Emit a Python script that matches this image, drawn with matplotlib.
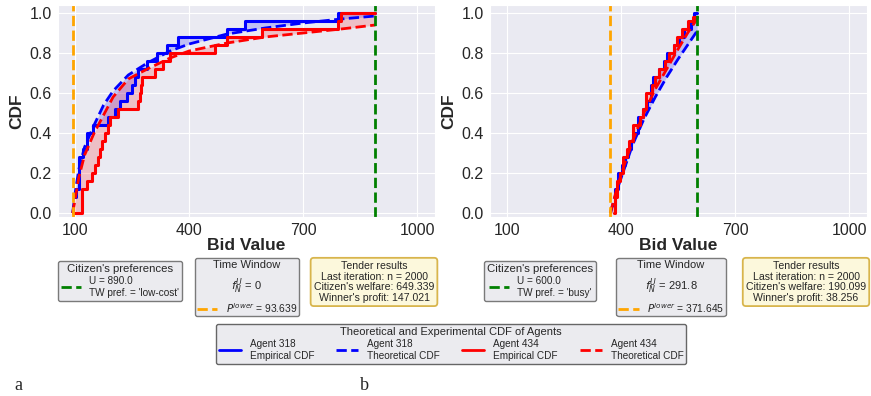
import numpy as np
import matplotlib
matplotlib.use("Agg")
import matplotlib.pyplot as plt
import seaborn as sns
from matplotlib.lines import Line2D

sns.set_style("darkgrid")
plt.rcParams['font.family'] = ['Liberation Sans', 'DejaVu Sans']
plt.rcParams['mathtext.fontset'] = 'dejavusans'

W, H = 871, 396

# ---------------- panel a ----------------
a_U = 890.0
a_p_lower = 93.639
a_fNU = "0"
a_pref = "low-cost"
a_results = ["Last iteration: n = 2000", "Citizen's welfare: 649.339", "Winner's profit: 147.021"]

a_318_bids = [97, 103, 111, 122, 132, 146, 187, 205, 218, 236, 249, 258, 266, 288, 315, 341, 371, 500, 548, 792]
a_318_cdf = [0.08, 0.12, 0.28, 0.32, 0.40, 0.44, 0.48, 0.52, 0.56, 0.60, 0.64, 0.68, 0.72, 0.76, 0.80, 0.84, 0.88, 0.92, 0.96, 1.00]
a_434_bids = [95, 117, 130, 144, 152, 161, 165, 170, 179, 187, 192, 214, 266, 270, 273, 275, 310, 332, 350, 468, 499, 591, 792, 800]
a_434_cdf = [0.00, 0.12, 0.16, 0.20, 0.24, 0.28, 0.32, 0.36, 0.40, 0.44, 0.48, 0.52, 0.56, 0.60, 0.64, 0.68, 0.72, 0.76, 0.80, 0.84, 0.88, 0.92, 0.96, 1.00]

a_318_theo_x = [93.639, 100, 110, 125, 150, 175, 200, 240, 290, 350, 400, 500, 600, 700, 800, 890]
a_318_theo_y = [0.0, 0.10, 0.22, 0.33, 0.44, 0.54, 0.61, 0.69, 0.75, 0.81, 0.845, 0.895, 0.925, 0.95, 0.97, 0.985]
a_434_theo_x = [93.639, 100, 110, 125, 150, 175, 200, 240, 290, 350, 400, 500, 600, 700, 800, 890]
a_434_theo_y = [0.0, 0.07, 0.18, 0.29, 0.40, 0.49, 0.58, 0.67, 0.72, 0.775, 0.81, 0.85, 0.88, 0.90, 0.92, 0.94]

# ---------------- panel b ----------------
b_U = 600.0
b_p_lower = 371.645
b_fNU = "291.8"
b_pref = "busy"
b_results = ["Last iteration: n = 2000", "Citizen's welfare: 190.099", "Winner's profit: 38.256"]

b_318_bids = [378, 385, 393, 402, 410, 418, 425, 432, 445, 458, 468, 478, 485, 500, 512, 522, 540, 553, 565, 585, 592]
b_318_cdf = [0.04, 0.12, 0.20, 0.24, 0.28, 0.32, 0.36, 0.40, 0.48, 0.52, 0.56, 0.64, 0.68, 0.72, 0.76, 0.80, 0.84, 0.88, 0.92, 0.96, 1.00]
b_434_bids = [380, 383, 390, 398, 405, 415, 420, 430, 450, 458, 465, 480, 490, 500, 515, 525, 540, 548, 560, 575, 590]
b_434_cdf = [0.00, 0.08, 0.16, 0.20, 0.28, 0.32, 0.36, 0.44, 0.48, 0.52, 0.60, 0.64, 0.68, 0.72, 0.76, 0.80, 0.84, 0.88, 0.92, 0.96, 0.98]

b_318_theo_x = [371.645, 390, 410, 430, 460, 490, 520, 550, 575, 600]
b_318_theo_y = [0.0, 0.12, 0.23, 0.34, 0.47, 0.58, 0.68, 0.77, 0.84, 0.91]
b_434_theo_x = [371.645, 390, 410, 430, 460, 490, 520, 550, 575, 600]
b_434_theo_y = [0.0, 0.13, 0.25, 0.36, 0.50, 0.62, 0.72, 0.82, 0.90, 0.97]

x_ticks = [100, 400, 700, 1000]
agents = ["318", "434"]
agent_colors = ["blue", "red"]


def step_eval(bids, cdf, xs):
    idx = np.searchsorted(bids, xs, side='right') - 1
    out = np.where(idx >= 0, np.asarray(cdf)[np.clip(idx, 0, None)], 0.0)
    return out


def draw_panel(ax, U, p_lower, series):
    grid = np.linspace(p_lower, U, 1500)
    for bids, cdf, tx, ty, col in series:
        emp = step_eval(bids, cdf, grid)
        theo = np.interp(grid, tx, ty)
        ax.fill_between(grid, emp, theo, color=col, alpha=0.18, lw=0)
    for bids, cdf, tx, ty, col in series:
        sx = list(bids) + [U]
        sy = list(cdf) + [cdf[-1]]
        ax.step(sx, sy, where='post', color=col, lw=2.2)
        ax.plot(tx, ty, color=col, ls='--', lw=2)
    ax.axvline(p_lower, color='orange', ls='--', lw=2)
    ax.axvline(U, color='green', ls='--', lw=2)
    ax.set_xlim(55, 1047)
    ax.set_ylim(-0.02, 1.04)
    ax.set_xticks(x_ticks)
    ax.set_yticks(np.arange(0, 1.01, 0.2))
    ax.set_yticklabels([f"{v:.1f}" for v in np.arange(0, 1.01, 0.2)])
    ax.tick_params(labelsize=11.5, pad=1)
    ax.set_xlabel("Bid Value", fontsize=12.5, fontweight='bold', labelpad=0)
    ax.set_ylabel("CDF", fontsize=12.5, fontweight='bold', labelpad=4)


fig = plt.figure(figsize=(W / 100, H / 100), dpi=100)
ax_a = fig.add_axes([58 / W, 1 - 217 / H, 377 / W, 212 / H])
ax_b = fig.add_axes([490 / W, 1 - 217 / H, 377 / W, 212 / H])

draw_panel(ax_a, a_U, a_p_lower, [
    (a_318_bids, a_318_cdf, a_318_theo_x, a_318_theo_y, agent_colors[0]),
    (a_434_bids, a_434_cdf, a_434_theo_x, a_434_theo_y, agent_colors[1]),
])
draw_panel(ax_b, b_U, b_p_lower, [
    (b_318_bids, b_318_cdf, b_318_theo_x, b_318_theo_y, agent_colors[0]),
    (b_434_bids, b_434_cdf, b_434_theo_x, b_434_theo_y, agent_colors[1]),
])

box_face = '#ebebef'
box_edge = '#7a7a7a'


def info_boxes(U, p_lower, fNU, pref, results, cp_x, tw_x, tr_x):
    fig.legend([Line2D([], [], color='green', ls='--', lw=2)],
               [f"U = {U:.1f}\nTW pref. = '{pref}'"],
               title="Citizen's preferences", loc='upper center',
               bbox_to_anchor=(cp_x / W, 1 - 256 / H), fontsize=7.2,
               title_fontsize=8.2, handlelength=2.0, handletextpad=0.8,
               frameon=True, fancybox=True, facecolor=box_face,
               edgecolor=box_edge, framealpha=1, borderpad=0.3,
               labelspacing=0.2)
    leg2 = fig.legend([Line2D([], [], color='orange', ls='--', lw=2)],
                      [f"$P^{{lower}}$ = {p_lower:.3f}"],
                      title=f"Time Window\n$f_N^U$ = {fNU}", loc='upper center',
                      bbox_to_anchor=(tw_x / W, 1 - 256 / H), fontsize=7.4,
                      title_fontsize=8.0, handlelength=2.0, handletextpad=0.8,
                      frameon=True, fancybox=True, facecolor=box_face,
                      edgecolor=box_edge, framealpha=1, borderpad=0.15,
                      borderaxespad=0.2)
    leg2.get_title().set_multialignment('center')
    leg2.get_title().set_linespacing(1.5)
    fig.text(tr_x / W, 1 - 261 / H, "Tender results\n" + "\n".join(results),
             ha='center', va='top', multialignment='center', fontsize=7.6,
             linespacing=1.08,
             bbox=dict(boxstyle='round,pad=0.3', fc='#fcf8dc', ec='#d8b54c', lw=1.3))


info_boxes(a_U, a_p_lower, a_fNU, a_pref, a_results, 120, 247, 374)
info_boxes(b_U, b_p_lower, b_fNU, b_pref, b_results, 540, 671, 806)

handles = [Line2D([], [], color='blue', lw=2),
           Line2D([], [], color='blue', lw=2, ls='--'),
           Line2D([], [], color='red', lw=2),
           Line2D([], [], color='red', lw=2, ls='--')]
labels = ["Agent 318\nEmpirical CDF", "Agent 318\nTheoretical CDF",
          "Agent 434\nEmpirical CDF", "Agent 434\nTheoretical CDF"]
fig.legend(handles, labels, title="Theoretical and Experimental CDF of Agents",
           loc='upper center', bbox_to_anchor=(451 / W, 1 - 319 / H), ncol=4,
           fontsize=7.2, title_fontsize=8.0, handlelength=2.2, columnspacing=2.2,
           handletextpad=0.9, frameon=True, fancybox=True, facecolor=box_face,
           edgecolor='#666666', framealpha=1, borderpad=0.3, labelspacing=0.2)

fig.text(14 / W, 1 - 390 / H, "a", family=['Liberation Serif'], fontsize=13, va='baseline')
fig.text(360 / W, 1 - 390 / H, "b", family=['Liberation Serif'], fontsize=13, va='baseline')

fig.savefig("out.png", dpi=100)
